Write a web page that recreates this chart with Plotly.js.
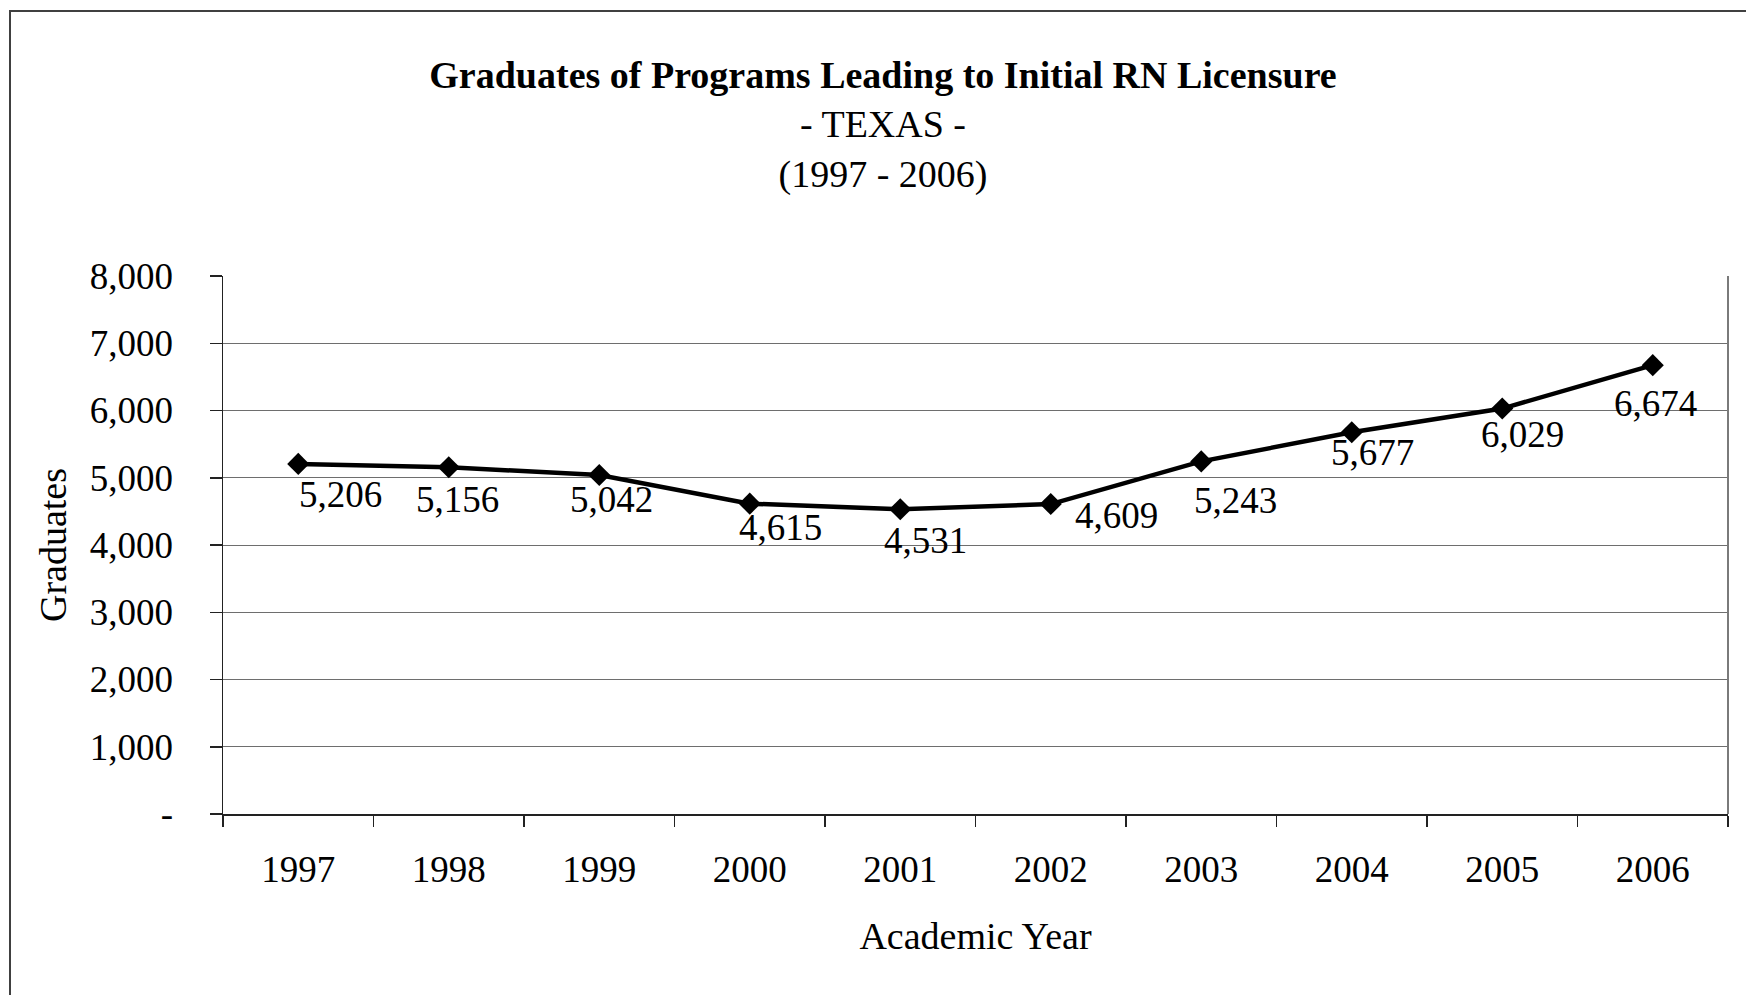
<!DOCTYPE html>
<html>
<head>
<meta charset="utf-8">
<script src="https://cdn.plot.ly/plotly-3.0.1.min.js"></script>
<style>html,body{margin:0;padding:0;background:#fff;}</style>
</head>
<body>
<div id="chart" style="width:1746px;height:995px;"></div>
<script>
// ---- data ----
const years = ["1997","1998","1999","2000","2001","2002","2003","2004","2005","2006"];
const graduates = [5206, 5156, 5042, 4615, 4531, 4609, 5243, 5677, 6029, 6674];
const yTickVals = [0, 1000, 2000, 3000, 4000, 5000, 6000, 7000, 8000];
const yTickText = ["-", "1,000", "2,000", "3,000", "4,000", "5,000", "6,000", "7,000", "8,000"];

// ---- label placement (pixel offsets of each value label from its point) ----
const labelDx = [42, 9, 12, 31, 25, 66, 34, 21, 20, 3];
const labelDy = [31, 32, 25, 24, 31, 11, 39, 20, 26, 38];

const FONT = "Liberation Serif, Times New Roman, serif";

function fmt(v) {
  return String(v).replace(/\B(?=(\d{3})+(?!\d))/g, ",");
}

const trace = {
  type: "scatter",
  mode: "lines+markers",
  x: years,
  y: graduates,
  line: {color: "#000", width: 4.5},
  marker: {symbol: "diamond", size: 17, color: "#000"},
  hoverinfo: "x+y"
};

const annotations = [];
for (let i = 0; i < years.length; i++) {
  annotations.push({
    x: i, y: graduates[i], xref: "x", yref: "y",
    text: fmt(graduates[i]),
    showarrow: false,
    xanchor: "center", yanchor: "middle",
    xshift: labelDx[i], yshift: -labelDy[i],
    font: {family: FONT, size: 37, color: "#000000"}
  });
}

const layout = {
  width: 1746, height: 995,
  margin: {l: 223, r: 18, t: 276, b: 181},
  paper_bgcolor: "#fff", plot_bgcolor: "#fff",
  showlegend: false,
  font: {family: FONT, color: "#000"},
  title: {
    text: "<b>Graduates of Programs Leading to Initial RN Licensure</b><br>- TEXAS -<br>(1997 - 2006)",
    font: {family: FONT, size: 38, color: "#000"},
    x: 883 / 1746, xanchor: "center",
    xref: "container", yref: "container",
    y: 1 - 88 / 995, yanchor: "top"
  },
  xaxis: {
    type: "category",
    range: [-0.5, 9.5],
    tickson: "boundaries",
    ticks: "outside", ticklen: 11, tickwidth: 1.5, tickcolor: "#222",
    showline: true, linecolor: "#222", linewidth: 1.5,
    showgrid: false, zeroline: false,
    tickfont: {family: FONT, size: 37, color: "#000"},
    ticklabelstandoff: 22,
    title: {text: "Academic Year", font: {family: FONT, size: 38, color: "#000"}, standoff: 33},
    fixedrange: true
  },
  yaxis: {
    range: [0, 8000],
    tickvals: yTickVals, ticktext: yTickText,
    ticks: "outside", ticklen: 12, tickwidth: 1.5, tickcolor: "#222",
    showline: true, linecolor: "#222", linewidth: 1.5,
    showgrid: true, gridcolor: "#6e6e6e", gridwidth: 1,
    zeroline: false,
    tickfont: {family: FONT, size: 37, color: "#000"},
    ticklabelstandoff: 29,
    title: {text: "Graduates", font: {family: FONT, size: 38, color: "#000"}, standoff: 11},
    fixedrange: true
  },
  annotations: annotations,
  shapes: [
    {type: "line", xref: "paper", yref: "paper", x0: 1, x1: 1, y0: 0, y1: 1,
     line: {color: "#7a7a7a", width: 2}},
    {type: "rect", xref: "paper", yref: "paper",
     x0: (10 - 223) / 1505, x1: 1.2, y0: -0.5, y1: (814 - 11) / 538,
     line: {color: "#404040", width: 2}}
  ]
};

Plotly.newPlot("chart", [trace], layout, {displayModeBar: false, staticPlot: true});
</script>
</body>
</html>
